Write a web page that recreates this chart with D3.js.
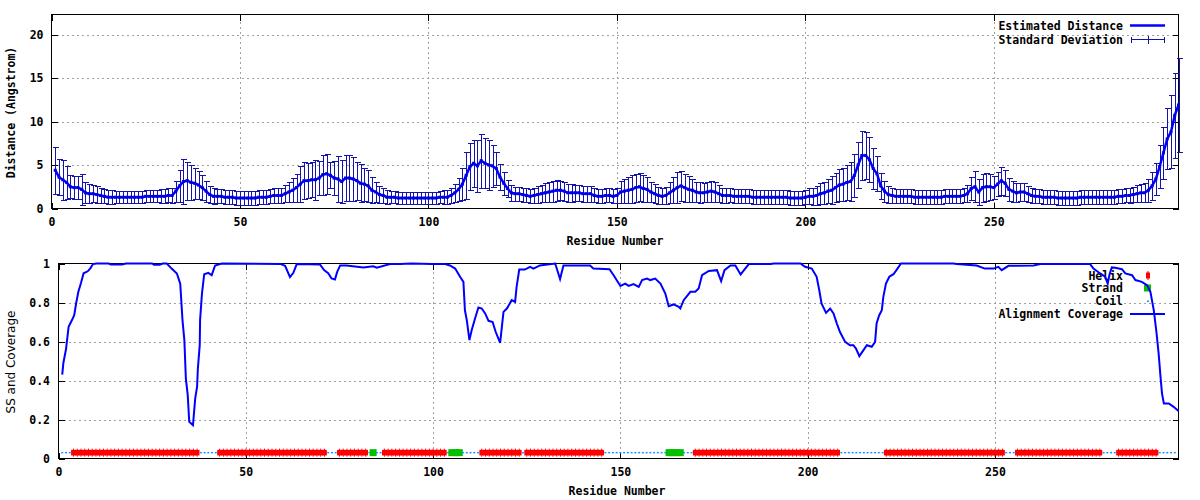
<!DOCTYPE html>
<html><head><meta charset="utf-8">
<script src="https://cdn.jsdelivr.net/npm/d3@7"></script>
<style>body{margin:0;background:#fff} svg{display:block}</style>
</head><body>
<svg id="c" width="1200" height="500"></svg>
<script>
// ---------- data ----------
const residueCount = 299;
const meanDistance = [
4.4,3.6,3.3,3.0,2.5,2.4,2.4,2.2,1.8,1.7,
1.7,1.6,1.5,1.4,1.3,1.3,1.3,1.3,1.3,1.3,
1.3,1.3,1.3,1.3,1.4,1.4,1.4,1.4,1.4,1.4,
1.5,1.5,2.0,2.6,3.1,3.2,3.0,2.9,2.7,2.4,
2.0,1.6,1.4,1.4,1.4,1.3,1.3,1.3,1.2,1.2,
1.2,1.2,1.2,1.2,1.3,1.3,1.3,1.4,1.5,1.5,
1.5,1.7,1.9,2.1,2.4,2.8,3.2,3.2,3.3,3.3,
3.5,3.9,4.0,3.8,3.5,3.4,3.1,3.5,3.5,3.4,
3.2,2.9,2.8,2.6,2.1,1.9,1.6,1.5,1.3,1.3,
1.3,1.2,1.2,1.2,1.2,1.2,1.2,1.2,1.2,1.2,
1.2,1.2,1.3,1.3,1.3,1.5,1.8,2.2,2.8,3.8,
4.8,5.2,4.9,5.5,5.2,5.0,4.9,4.6,3.6,2.9,
2.3,1.8,1.7,1.7,1.6,1.5,1.4,1.5,1.6,1.7,
1.8,1.9,2.0,2.1,2.1,2.0,1.8,1.8,1.8,1.8,
1.7,1.7,1.7,1.5,1.4,1.4,1.5,1.5,1.4,1.5,
1.9,2.0,2.1,2.2,2.4,2.5,2.3,2.2,1.9,1.7,
1.5,1.4,1.5,1.8,2.1,2.4,2.6,2.4,2.2,2.1,
1.9,1.8,1.8,1.9,2.0,1.9,1.7,1.5,1.5,1.5,
1.4,1.4,1.4,1.4,1.4,1.3,1.3,1.3,1.3,1.3,
1.3,1.3,1.3,1.3,1.3,1.2,1.2,1.2,1.2,1.3,
1.4,1.4,1.5,1.7,1.8,2.0,2.1,2.4,2.7,2.8,
3.0,3.1,3.8,5.0,6.1,6.1,5.6,4.6,4.0,2.6,
2.0,1.6,1.5,1.4,1.4,1.4,1.4,1.4,1.3,1.3,
1.3,1.3,1.3,1.3,1.3,1.3,1.4,1.4,1.4,1.4,
1.4,1.5,1.7,2.3,2.5,1.9,2.4,2.5,2.5,2.4,
2.8,3.2,2.9,2.2,2.0,1.8,1.9,1.9,1.7,1.5,
1.4,1.4,1.3,1.3,1.3,1.3,1.2,1.2,1.2,1.2,
1.2,1.2,1.3,1.3,1.3,1.3,1.3,1.3,1.3,1.3,
1.3,1.3,1.4,1.4,1.5,1.5,1.6,1.7,1.8,1.8,
2.1,2.6,3.4,4.8,6.4,8.0,8.8,10.7,11.9
];
const stdDeviation = [
2.7,2.1,2.3,1.9,1.3,1.3,1.3,1.8,1.2,1.1,
1.0,1.0,0.9,0.8,0.8,0.8,0.7,0.7,0.7,0.7,
0.7,0.7,0.7,0.7,0.7,0.7,0.7,0.7,0.8,0.8,
0.8,0.9,1.2,1.8,2.6,2.2,2.0,1.8,1.6,1.4,
1.2,1.0,0.9,0.8,0.8,0.8,0.8,0.8,0.8,0.8,
0.8,0.8,0.8,0.8,0.8,0.8,0.8,0.8,0.9,0.9,
0.9,1.0,1.2,1.4,1.6,2.1,2.1,2.0,2.0,2.3,
2.0,2.3,2.3,1.5,2.0,2.6,2.5,2.6,2.6,2.5,
2.2,2.2,1.9,1.8,1.5,1.2,1.0,0.9,0.8,0.7,
0.7,0.7,0.7,0.7,0.7,0.7,0.7,0.7,0.7,0.7,
0.7,0.7,0.7,0.8,0.8,0.9,1.0,1.3,1.8,2.7,
2.7,2.7,3.0,3.1,2.9,2.9,2.4,1.9,1.5,1.3,
1.0,0.9,0.8,0.8,0.8,0.8,0.8,0.9,1.0,1.0,
1.1,1.1,1.2,1.2,1.1,1.1,1.0,1.0,0.9,0.9,
0.9,0.9,0.9,0.8,0.8,0.8,0.8,0.8,0.8,0.9,
1.3,1.4,1.5,1.6,1.6,1.6,1.5,1.4,1.2,1.1,
1.0,0.9,1.0,1.2,1.5,1.8,1.7,1.6,1.5,1.3,
1.2,1.2,1.1,1.2,1.2,1.1,1.0,0.9,0.9,0.8,
0.8,0.8,0.8,0.8,0.8,0.8,0.8,0.8,0.8,0.8,
0.8,0.8,0.8,0.8,0.8,0.8,0.8,0.8,0.8,0.8,
0.9,1.0,1.1,1.2,1.3,1.4,1.6,1.7,1.8,1.9,
2.0,2.2,2.5,2.7,2.8,2.7,2.6,2.4,2.0,1.5,
1.2,1.0,0.9,0.8,0.8,0.8,0.8,0.8,0.8,0.8,
0.8,0.8,0.8,0.8,0.8,0.8,0.8,0.8,0.8,0.8,
0.8,0.8,1.0,1.3,1.8,1.5,1.6,1.6,1.5,1.3,
1.4,1.6,1.5,1.3,1.2,1.1,1.0,1.0,0.9,0.9,
0.8,0.8,0.8,0.8,0.8,0.8,0.8,0.8,0.8,0.8,
0.8,0.8,0.8,0.8,0.8,0.8,0.8,0.8,0.8,0.8,
0.8,0.8,0.8,0.8,0.8,0.9,0.9,1.0,1.0,1.1,
1.3,1.6,1.8,2.5,3.0,3.5,4.2,4.9,5.4
];
const coverageResidue = [1,1.3,2,2.7,3.6,4.2,4.7,5.3,6,6.7,7.8,8.5,9.2,10.2,13.4,14,17,18,25,25.5,27,27.8,28.9,30.2,31.6,32.5,33.1,33.6,34,34.5,34.9,35.9,36.5,37,37.2,37.7,37.8,38.3,38.9,40,40.9,41.8,43.6,59.2,60.5,61.8,62.7,63.6,69.8,70.9,72,72.9,73.8,74.4,75.2,76.9,81.4,84,85,88.5,91.2,94.3,99.6,103.2,104.5,105.9,107.2,108.1,108.5,109,109.7,110.3,111.2,112.1,113,113.9,114.8,115.9,116.7,117.9,118.8,119.7,121,121.9,122.3,123,124.5,125.9,126.8,128.5,132.6,133.9,134.8,141.9,142.8,147.1,148.2,150,151.3,152.2,153.5,154.9,155.8,157.1,158,159.3,160.7,162,162.9,164.2,165.6,166,166.9,168.7,170,170.9,171.8,173.6,175.8,176.9,177.8,179.4,180.7,182.1,183,184.3,190.1,191,198.1,199.3,201.1,202.4,203.1,203.7,204.9,206,206.9,207.8,208.6,210,211.3,212.2,212.9,213.8,214.9,215.8,217.1,218,218.4,219.1,219.8,220.2,220.9,221.8,222.9,223.7,224.9,238.9,239.8,245.1,247.3,249.6,250.9,251.8,253.6,260.3,262.1,275.4,276.3,278.1,279.4,280.1,280.6,281.2,282.1,283.9,284.8,286.6,287.5,289.2,290.6,291.5,292.4,293.1,293.7,294.2,294.6,295.1,296.4,297.7,299];
const coverageValue = [0.43,0.49,0.56,0.675,0.71,0.735,0.795,0.855,0.90,0.95,0.96,0.975,0.997,1.0,1.0,0.995,0.995,1.0,1.0,0.993,0.993,1.0,1.0,0.974,0.949,0.897,0.71,0.607,0.41,0.325,0.188,0.171,0.308,0.368,0.46,0.58,0.71,0.846,0.945,0.952,0.94,0.99,1.0,0.998,0.988,0.93,0.952,0.997,0.995,0.966,0.95,0.923,0.918,0.957,0.99,0.99,0.98,0.986,0.978,0.997,0.997,1.0,0.997,0.997,0.99,0.974,0.932,0.906,0.76,0.71,0.607,0.658,0.718,0.774,0.769,0.744,0.706,0.70,0.65,0.593,0.752,0.769,0.812,0.803,0.88,0.969,0.969,0.983,0.974,0.99,1.0,0.92,0.99,0.99,0.974,0.971,0.94,0.885,0.897,0.885,0.894,0.88,0.915,0.923,0.915,0.923,0.897,0.846,0.781,0.79,0.778,0.77,0.812,0.855,0.855,0.872,0.94,0.962,0.966,0.91,0.966,0.99,0.99,0.944,0.966,0.997,0.997,1.0,1.0,0.983,0.974,0.932,0.863,0.795,0.747,0.769,0.744,0.692,0.65,0.598,0.581,0.581,0.564,0.525,0.556,0.581,0.573,0.598,0.692,0.735,0.761,0.829,0.897,0.932,0.945,0.966,1.0,1.0,0.997,0.99,0.974,0.974,0.983,0.966,0.988,0.99,0.997,0.997,0.974,0.949,0.932,0.897,0.945,0.98,0.978,0.971,0.949,0.94,0.915,0.906,0.889,0.855,0.761,0.65,0.538,0.419,0.333,0.282,0.282,0.265,0.244];
const helixSegments = [[4,37],[43,71],[75,82],[87,103],[113,123],[125,145],[170,208],[221,252],[256,278],[283,293]];
const strandSegments = [[84,84],[105,107],[163,166]];
const ssLength = 298;
const ssLevel = 0.03;
const xTickValues = [0,50,100,150,200,250];
const yTickTop = [0,5,10,15,20];
const yTickBottom = [0,0.2,0.4,0.6,0.8,1];
const legendTop = ["Estimated Distance","Standard Deviation"];
const legendBottom = ["Helix","Strand","Coil","Alignment Coverage"];

// ---------- drawing ----------
const svg = d3.select("#c");
const MONO = "'DejaVu Sans Mono', monospace";
const residues = d3.range(1, residueCount + 1);
const GRID = "#a0a0a0";
const BAR = "#1414a8";
const BLUE = "#0000ff";

function panel(cfg) {
  const g = svg.append("g");
  const {x, y, yTicks, yFmt, yPad} = cfg;
  const [x0, x1] = x.range(); const [y0, y1] = y.range();
  g.append("g").selectAll("line").data(xTickValues.filter(d => d > 0)).join("line")
    .attr("x1", d => Math.round(x(d)) + 0.5).attr("x2", d => Math.round(x(d)) + 0.5)
    .attr("y1", y0).attr("y2", y1)
    .attr("stroke", GRID).attr("stroke-dasharray", "2,3").attr("shape-rendering", "crispEdges");
  g.append("g").selectAll("line").data(yTicks.filter(d => d > 0 && d < y.domain()[1])).join("line")
    .attr("y1", d => Math.round(y(d)) + 0.5).attr("y2", d => Math.round(y(d)) + 0.5)
    .attr("x1", x0).attr("x2", x1)
    .attr("stroke", GRID).attr("stroke-dasharray", "2,3").attr("shape-rendering", "crispEdges");
  const style = sel => {
    sel.select(".domain").remove();
    sel.selectAll("line").attr("stroke", "#000").attr("shape-rendering", "crispEdges");
    sel.selectAll("text").attr("font-family", MONO).attr("font-weight", "bold")
      .attr("font-size", "11.5px").attr("fill", "#000");
  };
  g.append("g").attr("transform", `translate(0,${y0})`)
    .call(d3.axisBottom(x).tickValues(xTickValues).tickSize(-6).tickPadding(9).tickFormat(d3.format("d"))).call(style);
  g.append("g").attr("transform", `translate(0,${y1})`)
    .call(d3.axisTop(x).tickValues(xTickValues).tickSize(-6).tickFormat("")).call(style);
  g.append("g").attr("transform", `translate(${x0},0)`)
    .call(d3.axisLeft(y).tickValues(yTicks).tickSize(-6).tickPadding(yPad).tickFormat(yFmt)).call(style);
  g.append("g").attr("transform", `translate(${x1},0)`)
    .call(d3.axisRight(y).tickValues(yTicks).tickSize(-6).tickFormat("")).call(style);
  g.append("rect").attr("x", x0).attr("y", y1).attr("width", x1 - x0).attr("height", y0 - y1)
    .attr("fill", "none").attr("stroke", "#000").attr("shape-rendering", "crispEdges");
  return g;
}

// ---- top panel ----
const xTop = d3.scaleLinear().domain([0, 299]).range([51.5, 1178.5]);
const yTop = d3.scaleLinear().domain([0, 22.3]).range([208.5, 14.5]);
const gTop = panel({x: xTop, y: yTop, yTicks: yTickTop, yFmt: d3.format("d"), yPad: 8});

const lgT = gTop.append("g").attr("font-family", MONO).attr("font-weight", "bold").attr("font-size", "11.5px");
lgT.selectAll("text").data(legendTop).join("text")
  .attr("x", 1123).attr("y", (d, i) => 25.5 + i * 14).attr("dy", "0.35em")
  .attr("text-anchor", "end").text(d => d);
lgT.append("line").attr("x1", 1130).attr("x2", 1165).attr("y1", 25.5).attr("y2", 25.5)
  .attr("stroke", BLUE).attr("stroke-width", 2.5);
const lgE = lgT.append("g").attr("stroke", BAR).attr("shape-rendering", "crispEdges");
lgE.append("line").attr("x1", 1131).attr("x2", 1165).attr("y1", 39.5).attr("y2", 39.5);
[[1131.5, 3], [1148.5, 4], [1164.5, 3]].forEach(([cx, h]) => {
  lgE.append("line").attr("x1", cx).attr("x2", cx).attr("y1", 39.5 - h).attr("y2", 39.5 + h);
});

const eb = gTop.append("g").attr("stroke", BAR).attr("stroke-width", 1).attr("shape-rendering", "crispEdges");
residues.forEach((r, i) => {
  const cx = Math.round(xTop(r)) + 0.5;
  const lo = Math.round(yTop(Math.max(0, meanDistance[i] - stdDeviation[i]))) + 0.5;
  const hi = Math.round(yTop(meanDistance[i] + stdDeviation[i])) + 0.5;
  eb.append("line").attr("x1", cx).attr("x2", cx).attr("y1", lo).attr("y2", hi);
  eb.append("line").attr("x1", cx - 3).attr("x2", cx + 3).attr("y1", lo).attr("y2", lo);
  eb.append("line").attr("x1", cx - 3).attr("x2", cx + 3).attr("y1", hi).attr("y2", hi);
});
gTop.append("path").datum(residues)
  .attr("d", d3.line().x(r => xTop(r)).y((r, i) => yTop(meanDistance[i])))
  .attr("fill", "none").attr("stroke", BLUE).attr("stroke-width", 2.5);
gTop.append("g").selectAll("rect").data(residues).join("rect")
  .attr("x", r => xTop(r) - 1.5).attr("y", (r, i) => yTop(meanDistance[i]) - 1.5)
  .attr("width", 3).attr("height", 3).attr("fill", "#0000e0");

svg.append("text").attr("x", 615).attr("y", 240.5).attr("dy", "0.35em").attr("text-anchor", "middle")
  .attr("font-family", MONO).attr("font-weight", "bold").attr("font-size", "11.5px").text("Residue Number");
svg.append("text").attr("transform", "translate(11,112.5) rotate(-90)").attr("dy", "0.35em").attr("text-anchor", "middle")
  .attr("font-family", MONO).attr("font-weight", "bold").attr("font-size", "11.5px").text("Distance (Angstrom)");

// ---- bottom panel ----
const xBot = d3.scaleLinear().domain([0, 299]).range([58.5, 1178.5]);
const yBot = d3.scaleLinear().domain([0, 1]).range([458.5, 263.5]);
const gBot = panel({x: xBot, y: yBot, yTicks: yTickBottom, yFmt: d3.format("~g"), yPad: 8.5});

const lgB = gBot.append("g").attr("font-family", MONO).attr("font-weight", "bold").attr("font-size", "11.5px");
lgB.selectAll("text").data(legendBottom).join("text")
  .attr("x", 1123).attr("y", (d, i) => 275.5 + i * 12.8).attr("dy", "0.35em")
  .attr("text-anchor", "end").text(d => d);
lgB.append("rect").attr("x", 1146).attr("y", 272.5).attr("width", 4).attr("height", 6).attr("fill", "#ff0000");
lgB.append("rect").attr("x", 1147.5).attr("y", 271).attr("width", 1).attr("height", 9).attr("fill", "#ff0000");
lgB.append("rect").attr("x", 1144).attr("y", 284.5).attr("width", 7).attr("height", 7).attr("fill", "#00c000");
lgB.append("rect").attr("x", 1147).attr("y", 300.5).attr("width", 2).attr("height", 1.5).attr("fill", "#1e90ff");
lgB.append("line").attr("x1", 1130).attr("x2", 1165).attr("y1", 314).attr("y2", 314).attr("stroke", BLUE).attr("stroke-width", 2);

const ssType = d3.range(1, ssLength + 1).map(r =>
  helixSegments.some(([a, b]) => r >= a && r <= b) ? "H" :
  strandSegments.some(([a, b]) => r >= a && r <= b) ? "E" : "C");
const ssG = gBot.append("g");
const yss = yBot(ssLevel);
ssType.forEach((t, i) => {
  const cx = xBot(i + 1);
  if (t === "H") {
    ssG.append("rect").attr("x", cx - 2.4).attr("y", yss - 2.8).attr("width", 4.8).attr("height", 5.6).attr("fill", "#ff0000");
    ssG.append("rect").attr("x", cx - 0.5).attr("y", yss - 4).attr("width", 1).attr("height", 8).attr("fill", "#ff0000");
  } else if (t === "E") {
    ssG.append("rect").attr("x", cx - 3.5).attr("y", yss - 3.5).attr("width", 7).attr("height", 7).attr("fill", "#00c000");
  } else {
    ssG.append("rect").attr("x", cx - 1).attr("y", yss - 0.75).attr("width", 2).attr("height", 1.5).attr("fill", "#1e90ff");
  }
});

gBot.append("path").datum(coverageResidue)
  .attr("d", d3.line().x(r => xBot(r)).y((r, i) => yBot(coverageValue[i])))
  .attr("fill", "none").attr("stroke", BLUE).attr("stroke-width", 2);

svg.append("text").attr("x", 617).attr("y", 490.5).attr("dy", "0.35em").attr("text-anchor", "middle")
  .attr("font-family", MONO).attr("font-weight", "bold").attr("font-size", "11.5px").text("Residue Number");
svg.append("text").attr("transform", "translate(11,362) rotate(-90)").attr("dy", "0.35em").attr("text-anchor", "middle")
  .attr("font-family", "'DejaVu Sans', sans-serif").attr("font-size", "12px").text("SS and Coverage");
</script>
</body></html>
